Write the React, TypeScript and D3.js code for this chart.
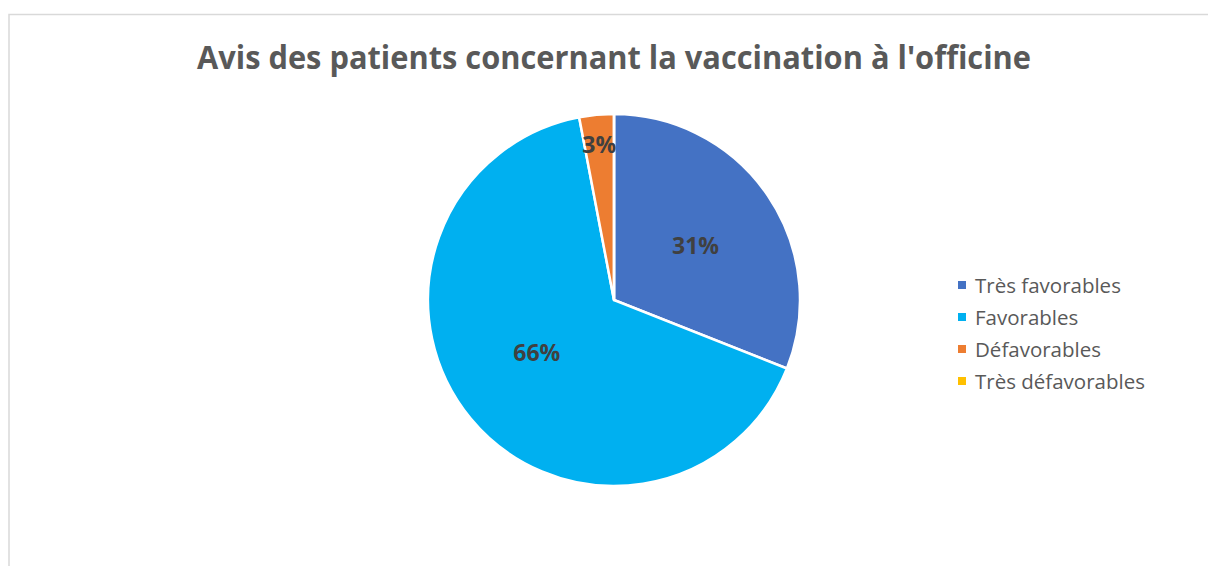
import React from "react";
import * as d3 from "d3";

const categories = ["Très favorables", "Favorables", "Défavorables", "Très défavorables"];
const values = [31, 66, 3, 0];
const colors = ["#4472C4", "#00B0F0", "#ED7D31", "#FFC000"];
const title = "Avis des patients concernant la vaccination à l'officine";

const W = 1208;
const H = 566;

export default function App() {
  const cx = 614;
  const cy = 300;
  const R = 186;
  const pie = d3.pie<number>().sort(null).value((d) => d)(values);
  const arc = d3.arc<d3.PieArcDatum<number>>().innerRadius(0).outerRadius(R);
  const total = d3.sum(values);
  const legendY = d3.scalePoint<string>().domain(categories).range([285, 381]);
  const font = "'Open Sans', 'Liberation Sans', sans-serif";

  return (
    <svg
      width={W}
      height={H}
      style={{ position: "absolute", left: 0, top: 0, background: "#fff" }}
    >
      <rect x={9} y={14.5} width={W + 20} height={H + 20} fill="#fff" stroke="#d9d9d9" strokeWidth={1.5} />
      <text
        x={614}
        y={69}
        textAnchor="middle"
        fontFamily={font}
        fontWeight={700}
        fontSize={33}
        fill="#595959"
        textLength={834}
        lengthAdjust="spacingAndGlyphs"
      >
        {title}
      </text>
      <g transform={`translate(${cx},${cy})`}>
        {pie.map((p, i) => (
          <path key={i} d={arc(p) || ""} fill={colors[i]} stroke="#fff" strokeWidth={2.5} strokeLinejoin="round" />
        ))}
        {pie.map((p, i) => {
          if (p.data === 0) return null;
          const pct = p.data / total;
          const big = pct > 0.5;
          const rr = pct < 0.05 ? R * 0.84 : big ? R * 0.5 : R * 0.53;
          const a = (p.startAngle + p.endAngle) / 2 + (big ? 0.1 : 0);
          const x = Math.sin(a) * rr;
          const y = -Math.cos(a) * rr;
          return (
            <text
              key={"l" + i}
              x={x}
              y={y}
              textAnchor="middle"
              dominantBaseline="central"
              fontFamily={font}
              fontWeight={700}
              fontSize={23}
              fill="#404040"
            >
              {d3.format(".0%")(pct)}
            </text>
          );
        })}
      </g>
      <g>
        {categories.map((c, i) => {
          const y = legendY(c) as number;
          return (
            <g key={c}>
              <rect x={958} y={y - 4} width={8} height={8} fill={colors[i]} />
              <text
                x={975}
                y={y}
                dominantBaseline="central"
                fontFamily={font}
                fontSize={20.5}
                fill="#595959"
              >
                {c}
              </text>
            </g>
          );
        })}
      </g>
    </svg>
  );
}
